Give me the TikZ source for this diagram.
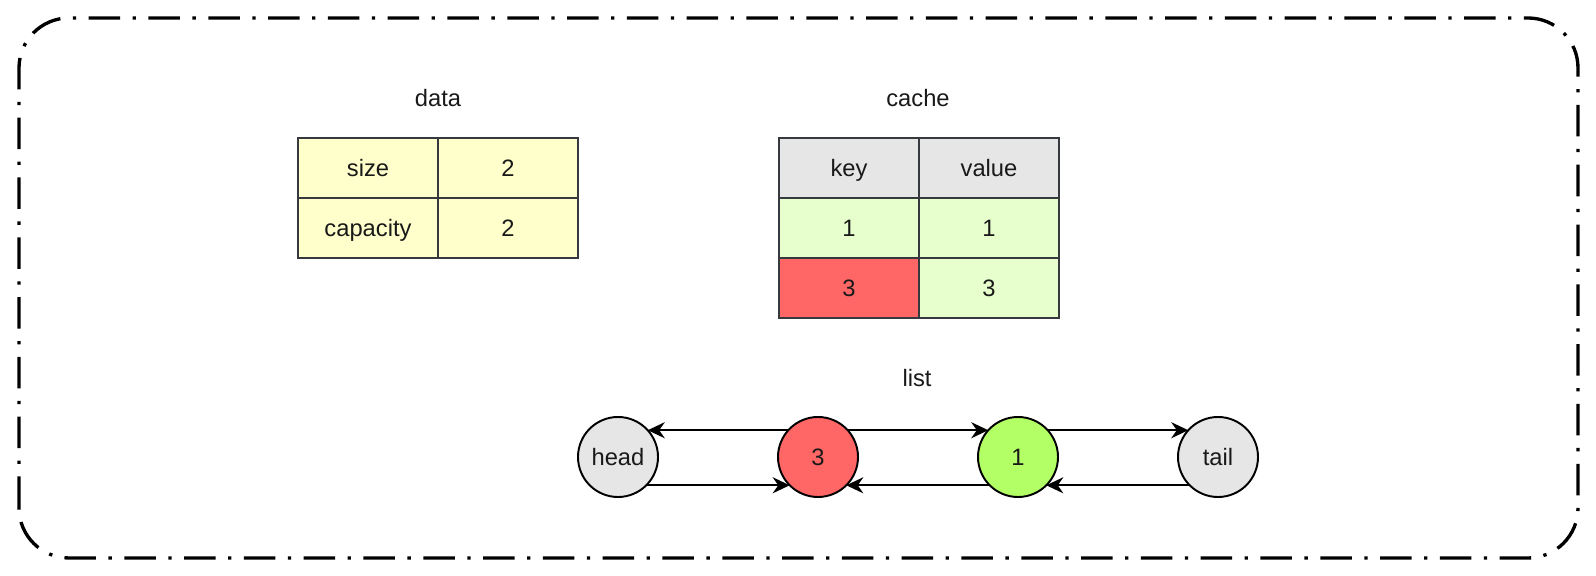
\documentclass[tikz,border=0pt]{standalone}
\usepackage{fontspec}
\setmainfont{Liberation Sans}
\usetikzlibrary{arrows.meta,positioning}
\tikzset{>={Stealth[length=0.34cm,width=0.32cm]}}
\definecolor{celldraw}{HTML}{36393D}
\definecolor{datafill}{HTML}{FFFFCC}
\definecolor{headfill}{HTML}{E6E6E6}
\definecolor{keyfill}{HTML}{E6FFCC}
\definecolor{hotfill}{HTML}{FF6666}
\definecolor{newfill}{HTML}{B3FF66}
\tikzset{
  txt/.style={font=\fontsize{13.5pt}{16pt}\selectfont, text=black!90,
    text height=11.5pt, text depth=1.8pt},
  cell/.style={txt, draw=celldraw, line width=1.1pt, minimum width=2.8cm,
    minimum height=1.2cm, inner sep=0pt, outer sep=0pt},
  lnode/.style={txt, circle, draw=black, line width=1.1pt, minimum size=1.6cm,
    inner sep=0pt, outer sep=0pt},
  link/.style={->, line width=1.1pt}
}

\begin{document}
\begin{tikzpicture}
\useasboundingbox (0,0) rectangle (31.92,11.52);
% outer frame
\draw[line width=1.9pt, rounded corners=1cm,
  dash pattern=on 0.63cm off 0.25cm on 0.066cm off 0.25cm]
  (0.38,0.36) rectangle (31.56,11.16);

% data table
\node[txt] (datalbl) at (8.76,9.56) {data};
\node[cell, fill=datafill] (size) at (7.36,8.16) {size};
\node[cell, fill=datafill, right=0pt of size] (sizev) {2};
\node[cell, fill=datafill, below=0pt of size] (cap) {capacity};
\node[cell, fill=datafill, right=0pt of cap] (capv) {2};

% cache table
\node[txt] (cachelbl) at (18.36,9.56) {cache};
\node[cell, fill=headfill] (key) at (16.98,8.16) {key};
\node[cell, fill=headfill, right=0pt of key] (val) {value};
\node[cell, fill=keyfill, below=0pt of key] (k1) {1};
\node[cell, fill=keyfill, right=0pt of k1] (v1) {1};
\node[cell, fill=hotfill, below=0pt of k1] (k3) {3};
\node[cell, fill=keyfill, right=0pt of k3] (v3) {3};

% list
\node[txt] (listlbl) at (18.34,3.96) {list};
\node[lnode, fill=headfill] (head) at (12.36,2.38) {head};
\node[lnode, fill=hotfill, right=2.4cm of head] (n3) {3};
\node[lnode, fill=newfill, right=2.4cm of n3] (n1) {1};
\node[lnode, fill=headfill, right=2.4cm of n1] (tail) {tail};

\draw[link] (n3.138) -- (head.42);
\draw[link] (n3.42) -- (n1.138);
\draw[link] (n1.42) -- (tail.138);
\draw[link] (head.-45) -- (n3.-135);
\draw[link] (n1.-135) -- (n3.-45);
\draw[link] (tail.-135) -- (n1.-45);
\end{tikzpicture}
\end{document}
